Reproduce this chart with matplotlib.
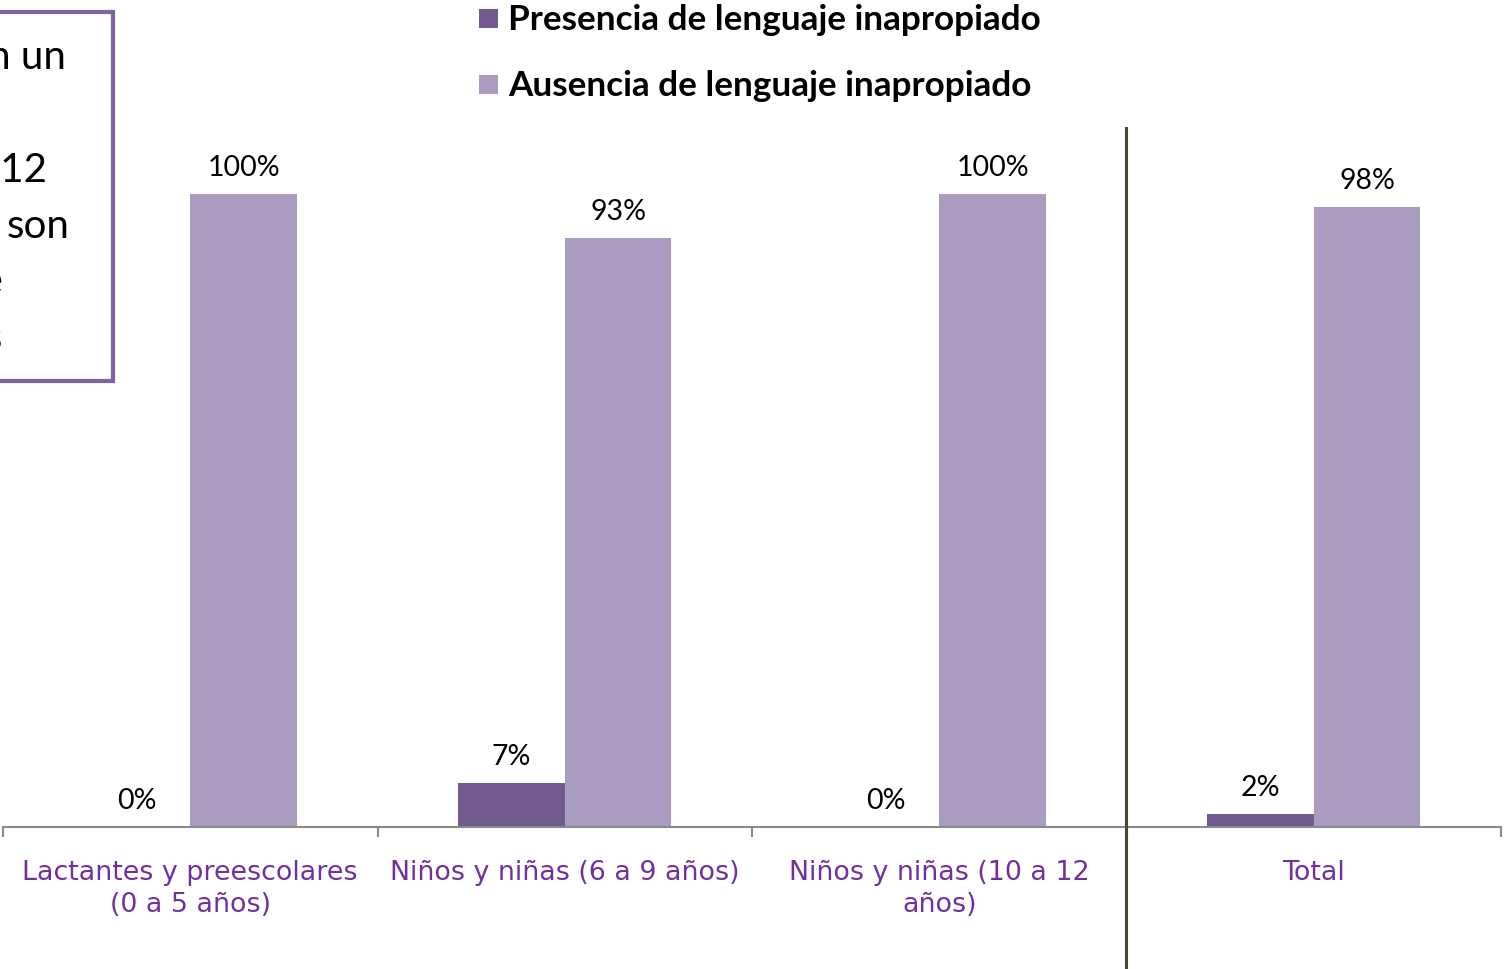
import matplotlib
matplotlib.use("Agg")
import matplotlib.pyplot as plt
from matplotlib.patches import Rectangle
from matplotlib.lines import Line2D
import numpy as np

categories = ["Lactantes y preescolares\n(0 a 5 años)",
              "Niños y niñas (6 a 9 años)",
              "Niños y niñas (10 a 12\naños)",
              "Total"]
presencia = [0, 7, 0, 2]
ausencia = [100, 93, 100, 98]
series_names = ["Presencia de lenguaje inapropiado",
                "Ausencia de lenguaje inapropiado"]
box_lines = ["en un", "a 12", "son", "de", "os"]

c_dark = "#72598F"
c_light = "#AA9BC0"
c_label = "#7030A0"

W, H = 1504, 970
fig = plt.figure(figsize=(W / 100, H / 100), dpi=100)

def fx(px):
    return px / W

def fy(py):
    return 1 - py / H

ax = fig.add_axes([fx(3), fy(828), fx(1501) - fx(3), fy(129) - fy(828)])
x = np.arange(len(categories))
bw = 0.285
b1 = ax.bar(x - bw / 2, presencia, bw, color=c_dark, label=series_names[0])
b2 = ax.bar(x + bw / 2, ausencia, bw, color=c_light, label=series_names[1])
ax.set_xlim(-0.5, len(categories) - 0.5)
ax.set_ylim(0, (828 - 129) / 6.33)

for bars, vals in ((b1, presencia), (b2, ausencia)):
    for r, v in zip(bars, vals):
        ax.annotate(f"{v}%", (r.get_x() + r.get_width() / 2, r.get_height()),
                    xytext=(0, 10), textcoords="offset points",
                    ha="center", va="bottom", fontsize=20.5, family="Lato",
                    color="black")

for s in ("top", "right", "left"):
    ax.spines[s].set_visible(False)
ax.spines["bottom"].set_color("#8a8a8a")
ax.spines["bottom"].set_linewidth(1.5)
ax.set_yticks([])
ax.set_xticks(np.arange(-0.5, len(categories)))
ax.set_xticklabels([])
ax.tick_params(axis="x", direction="out", length=7, width=1.5, color="#8a8a8a")
for i, c in enumerate(categories):
    ax.text(i, -5.0, c, ha="center", va="top", fontsize=19.4,
            family="DejaVu Sans", color=c_label, linespacing=1.3)

# vertical separator
fig.add_artist(Line2D([fx(1126), fx(1126)], [fy(129), 0], color="#4B4532",
                      linewidth=2.2, transform=fig.transFigure))

# legend (manual)
for i, (name, col) in enumerate(zip(series_names, [c_dark, c_light])):
    y0 = 10 + i * 66
    fig.add_artist(Rectangle((fx(479), fy(y0 + 19)), fx(19), fy(0) - fy(19),
                             facecolor=col, edgecolor="none",
                             transform=fig.transFigure))
    fig.text(fx(508), fy(y0 + 10), name, ha="left", va="center",
             fontsize=25.3, fontweight="bold", family="Lato", color="black")

# left text box (cropped)
fig.add_artist(Rectangle((fx(-20), fy(382)), fx(133), fy(13) - fy(382),
                         facecolor="none", edgecolor="#8064A2", linewidth=3,
                         transform=fig.transFigure))
box_pos = [(66, 69), (47, 182), (70, 238), (3, 293), (3, 350)]
for t, (px, py) in zip(box_lines, box_pos):
    fig.text(fx(px), fy(py), t, ha="right", va="baseline", fontsize=29,
             family="Lato", color="black")

fig.savefig("out.png", dpi=100)
